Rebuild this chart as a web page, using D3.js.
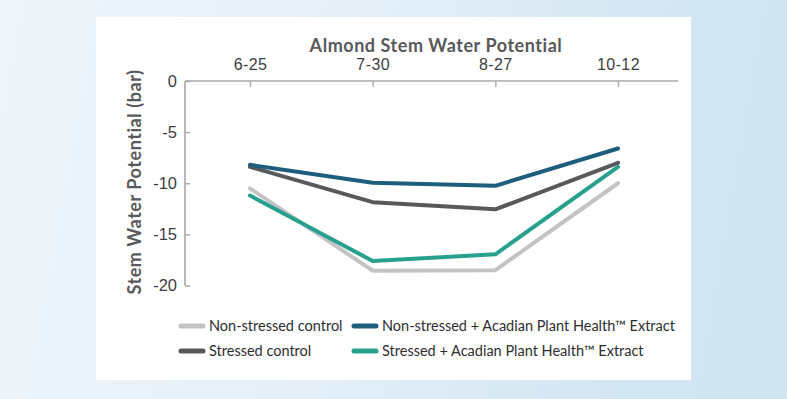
<!DOCTYPE html>
<html>
<head>
<meta charset="utf-8">
<script src="https://cdn.jsdelivr.net/npm/d3@7"></script>
<style>
  html, body { margin: 0; padding: 0; }
  body { width: 787px; height: 399px; overflow: hidden;
    background: linear-gradient(100deg, #eef5fb 0%, #e3eff8 45%, #d3e6f3 80%, #cfe3f2 100%); }
  svg { display: block; font-family: Lato, "Noto Sans", sans-serif; }
</style>
</head>
<body>
<svg id="chart" width="787" height="399"></svg>
<script>
// categories (sample dates) and series
const dates = ["6-25", "7-30", "8-27", "10-12"];
const nonStressedControl = [-10.5, -18.55, -18.5, -10.0];
const nonStressedAcadian = [-8.2, -9.95, -10.25, -6.6];
const stressedControl = [-8.4, -11.85, -12.55, -8.0];
const stressedAcadian = [-11.2, -17.6, -16.95, -8.4];
const yTicks = [0, -5, -10, -15, -20];

const series = [
  { name: "Non-stressed control", values: nonStressedControl, color: "#c3c3c5" },
  { name: "Stressed control", values: stressedControl, color: "#58595b" },
  { name: "Stressed + Acadian Plant Health\u2122 Extract", values: stressedAcadian, color: "#27a08c" },
  { name: "Non-stressed + Acadian Plant Health\u2122 Extract", values: nonStressedAcadian, color: "#1c5e7c" }
];

const svg = d3.select("#chart");

// white card
svg.append("rect")
  .attr("x", 96).attr("y", 17)
  .attr("width", 595).attr("height", 363)
  .attr("fill", "#ffffff");

const AX = { left: 185, right: 678, top: 81, bottom: 285.5 };

const x = d3.scalePoint().domain(dates).range([250, 618]);
const y = d3.scaleLinear().domain([0, -20]).range([AX.top, AX.bottom]);

// top axis line
svg.append("line")
  .attr("x1", AX.left).attr("x2", AX.right)
  .attr("y1", AX.top).attr("y2", AX.top)
  .attr("stroke", "#a7a8aa").attr("stroke-width", 1.6);

// left axis line
svg.append("line")
  .attr("x1", AX.left).attr("x2", AX.left)
  .attr("y1", AX.top).attr("y2", AX.bottom)
  .attr("stroke", "#a7a8aa").attr("stroke-width", 1.6);

// x axis (ticks point into the plot)
const xAxis = svg.append("g")
  .attr("transform", "translate(0," + AX.top + ")")
  .call(d3.axisTop(x).tickSizeInner(-6).tickSizeOuter(0).tickPadding(11));
xAxis.select(".domain").remove();
xAxis.selectAll(".tick line").attr("stroke", "#a7a8aa").attr("stroke-width", 1.4);
xAxis.selectAll(".tick text")
  .attr("fill", "#3d3d3f").style("font-size", "16px").style("letter-spacing", "0.4px");

// y axis
const yAxis = svg.append("g")
  .attr("transform", "translate(" + AX.left + ",0)")
  .call(d3.axisLeft(y).tickValues(yTicks).tickSizeInner(-5).tickSizeOuter(0).tickPadding(8)
    .tickFormat(d => d === 0 ? "0" : "-" + Math.abs(d)));
yAxis.select(".domain").remove();
yAxis.selectAll(".tick line").attr("stroke", "#a7a8aa").attr("stroke-width", 1.4);
yAxis.selectAll(".tick text")
  .attr("fill", "#3d3d3f").style("font-size", "16.5px");

// titles
svg.append("text")
  .attr("x", 436).attr("y", 52)
  .attr("text-anchor", "middle")
  .attr("fill", "#58595b")
  .style("font-size", "18px").style("font-weight", "700").style("letter-spacing", "0.55px")
  .text("Almond Stem Water Potential");

svg.append("text")
  .attr("transform", "translate(141,182) rotate(-90)")
  .attr("text-anchor", "middle")
  .attr("fill", "#58595b")
  .style("font-size", "18px").style("font-weight", "700").style("letter-spacing", "0.55px")
  .text("Stem Water Potential (bar)");

// lines
const line = d3.line()
  .x((d, i) => x(dates[i]))
  .y(d => y(d))
  .curve(d3.curveLinear);

series.forEach(s => {
  svg.append("path")
    .attr("d", line(s.values))
    .attr("fill", "none")
    .attr("stroke", s.color)
    .attr("stroke-width", 4)
    .attr("stroke-linejoin", "round")
    .attr("stroke-linecap", "round");
});

// legend (2 columns)
const legendItems = [
  { s: series[0], col: 0, row: 0 },
  { s: series[3], col: 1, row: 0 },
  { s: series[1], col: 0, row: 1 },
  { s: series[2], col: 1, row: 1 }
];
const legendX = [181, 354];
const legendY = [326, 351];

legendItems.forEach(item => {
  const g = svg.append("g")
    .attr("transform", "translate(" + legendX[item.col] + "," + legendY[item.row] + ")");
  g.append("line")
    .attr("x1", 0).attr("x2", 22)
    .attr("stroke", item.s.color)
    .attr("stroke-width", 5)
    .attr("stroke-linecap", "round");
  g.append("text")
    .attr("x", 28).attr("dy", "0.35em")
    .attr("fill", "#2e2e30")
    .style("font-size", "14.5px")
    .text(item.s.name);
});
</script>
</body>
</html>
